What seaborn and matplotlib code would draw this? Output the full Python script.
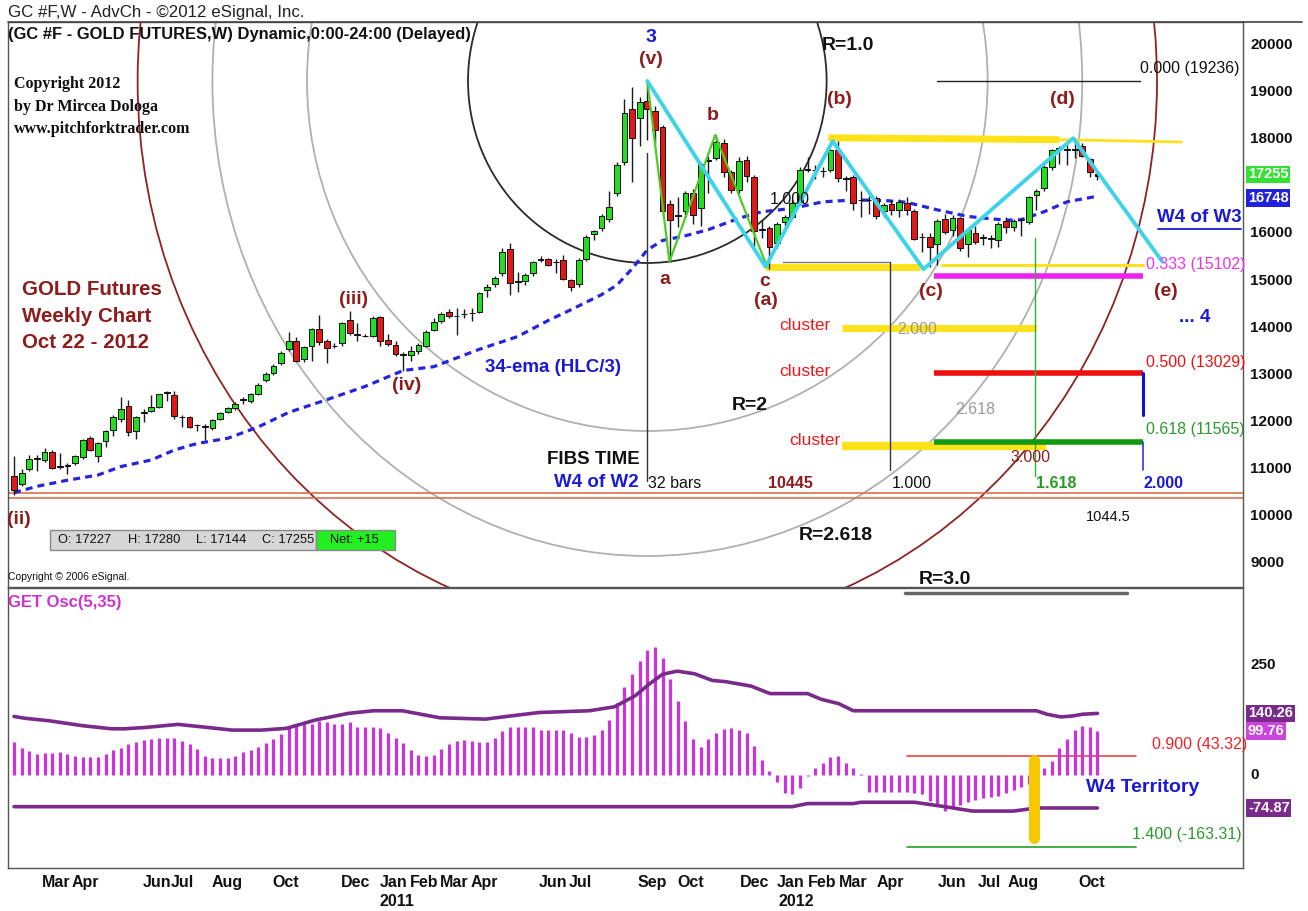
import numpy as np
import pandas as pd
import matplotlib
matplotlib.use("Agg")
import matplotlib.pyplot as plt
import seaborn as sns
from matplotlib.patches import Ellipse, Rectangle
from matplotlib.lines import Line2D

# ---------------- DATA ----------------
opens = [10840,10690,10990,11220,11190,11360,11050,11080,11120,11250,11660,11280,11590,11830,12070,12340,11800,12190,12235,12320,
         12610,12570,12110,12110,11930,11900,11860,12070,12210,12290,12470,12450,12600,12890,13040,13240,13550,13710,13330,13610,
         13980,13710,13620,13680,14170,13860,13820,13820,14230,13740,13630,13440,13420,13510,13610,13950,14130,14340,14250,14290,
         14300,14340,14800,14930,15150,15660,14970,14980,15150,15440,15450,15400,15440,15010,14920,15450,15990,16110,16300,16850,
         17520,18650,18460,18810,18600,18250,16620,16370,16480,16860,16530,17540,17610,17910,17310,16920,17560,17200,16080,16110,
         15790,16250,16350,16670,17360,17350,17330,17340,17780,17170,17190,16710,16710,16745,16480,16620,16500,16650,16480,15920,
         15930,15780,16300,16070,16320,15780,16010,15920,15900,15860,16270,16130,16280,16250,16810,16960,17420,17800,17790,17780,
         17850,17570,17227]
highs = [11270,11000,11300,11300,11440,11400,11330,11120,11300,11640,11700,11570,11830,12150,12530,12460,12130,12270,12560,12600,
         12660,12650,12140,12120,11960,11960,12050,12200,12320,12420,12520,12620,12820,13060,13220,13500,13910,13790,13610,14000,
         14270,13760,13680,14110,14350,14100,13860,14240,14250,13870,13720,13480,13600,13680,13940,14200,14340,14400,14410,14400,
         14420,14750,14920,15100,15690,15800,15190,15150,15420,15520,15480,15460,15550,15040,15470,15970,16080,16420,16890,17520,
         18850,19100,18900,19236,18700,18300,16700,16780,16900,16950,17520,17650,18080,18000,17350,17620,17650,17250,16290,16150,
         16250,16400,16700,17400,17630,17450,17420,17800,17970,17220,17250,16900,16800,16800,16650,16700,16720,16780,16520,16000,
         16000,16300,16420,16400,16350,16100,16150,15980,15960,16250,16350,16300,16330,16800,16950,17450,17800,17850,17880,18020,
         17920,17600,17280]
lows = [10445,10630,10950,10950,11150,11000,10990,10900,11080,11220,11380,11150,11460,11700,12000,11690,11630,12000,12200,12290,
        12440,12050,11890,11870,11800,11620,11820,12030,12180,12250,12380,12400,12560,12840,12990,13200,13500,13260,13270,13300,
        13640,13250,13560,13600,13850,13710,13800,13800,13600,13600,13400,13085,13300,13450,13580,13920,14100,14200,13840,14200,
        14150,14300,14650,14860,15100,14690,14760,14900,15100,15390,15300,15150,15010,14780,14860,15420,15870,16060,16250,16800,
        17450,17100,17850,17980,17900,16360,15400,16140,16350,16200,16150,16850,17550,17200,16850,16850,17100,15680,15900,15250,
        15700,16150,16300,16600,17300,17150,17200,17300,17100,16900,16500,16350,16420,16300,16350,16400,16350,16400,15850,15600,
        15294,15330,15980,15950,15620,15500,15780,15750,15700,15720,16000,16050,15950,16200,16500,16900,17350,17480,17450,17600,
        17620,17200,17144]
closes = [10560,10920,11220,11230,11360,11010,11060,11060,11270,11610,11400,11540,11810,12110,12270,11780,12110,12200,12305,12580,
          12630,12120,12100,11900,11940,11890,12040,12180,12290,12380,12480,12590,12780,13010,13180,13470,13710,13290,13590,13980,
          13690,13570,13600,14090,13890,13850,13830,14210,13720,13650,13440,13420,13510,13630,13910,14120,14280,14250,14240,14280,
          14310,14730,14870,15050,15600,14950,14980,15110,15400,15450,15330,15390,15030,14860,15430,15930,16060,16370,16550,17450,
          18550,18020,18780,18650,18200,16480,16290,16380,16850,16390,17480,17540,17940,17310,16920,17540,17220,16060,16090,15720,
          16200,16350,16650,17350,17350,17340,17320,17770,17170,17160,16640,16700,16700,16360,16600,16500,16670,16500,15880,15920,
          15720,16270,16040,16320,15680,16070,15820,15910,15890,16200,16130,16270,16290,16770,16910,17420,17770,17810,17780,17790,
          17640,17310,17255]

ema_idx = [0,3,7,11,14,18,21,24,28,32,36,41,46,51,55,61,66,70,73,77,79,81,83,85,88,91,95,98,102,106,110,114,117,121,125,130,132,135,138,142]
ema_val = [10495,10630,10760,10870,11050,11190,11400,11540,11650,11890,12200,12470,12750,13090,13170,13540,13810,14150,14380,14700,
           14900,15250,15650,15850,15950,16080,16320,16460,16530,16670,16710,16700,16660,16500,16360,16280,16290,16460,16670,16790]

osc = [76,62,55,48,49,49,53,47,44,42,42,42,47,57,62,70,76,80,82,83,83,85,77,70,59,44,38,38,38,44,
       53,57,64,72,82,93,106,112,115,117,123,120,117,117,120,110,110,110,106,95,85,72,57,45,44,45,59,70,77,80,
       77,76,76,85,99,108,110,108,108,102,102,102,102,95,86,86,91,102,125,163,199,229,259,284,290,266,218,168,123,81,
       64,81,96,104,106,102,96,66,33,9,-15,-40,-44,-29,-2,17,28,41,44,28,17,3,-38,-38,-38,-38,-38,-38,-40,-44,
       -58,-70,-82,-75,-68,-62,-56,-52,-50,-47,-40,-35,-28,-20,-5,17,32,62,81,102,111,110,100]

band_up_idx = [0,1.4,4.7,9,12.8,14.5,17.2,21.5,25.4,28.6,32.4,35.7,39.5,43.8,47.1,50.9,55.8,61.8,65,68.8,75.4,78.7,81.4,83.2,85,
               86.9,89.2,91.5,93.3,96.6,98.2,99.1,104,105.8,108.1,110,134,135.4,137.2,138.7,140,142]
band_up_val = [133,129,123,112,105,105,108,115,108,102,102,106,125,140,146,146,130,127,134,142,146,155,180,206,229,
               236,230,215,212,202,191,185,185,172,162,146,146,138,132,134,138,140]
band_lo_idx = [0,102,104,110,111,118,122,125.6,131,134,142]
band_lo_val = [-72,-72,-65,-65,-62,-62,-72,-82,-82,-75,-75]

price_ticks = [20000,19000,18000,16000,15000,14000,13000,12000,11000,10000,9000]
month_pos = [5.5,9.3,18.7,22.1,27.9,35.6,44.7,49.8,53.7,57.7,61.6,70.6,74.2,83.6,88.7,97,101.8,105.9,110,114.9,122.9,127.8,132.2,141.2]
month_lab = ["Mar","Apr","Jun","Jul","Aug","Oct","Dec","Jan","Feb","Mar","Apr","Jun","Jul","Sep","Oct","Dec","Jan","Feb","Mar","Apr","Jun","Jul","Aug","Oct"]
year_pos = [50.2, 102.5]
year_lab = ["2011", "2012"]

# wave structures (bar index, price)
cyan_idx = [83, 98.5, 107.3, 119.2, 138.8, 150.5]
cyan_px = [19236, 15290, 17960, 15240, 18020, 15400]
green_idx = [83, 85.9, 91.9, 98.7]
green_px = [19236, 15400, 18090, 15290]
arc_ratio = ["1.0", "2", "2.618", "3.0"]
arc_a_bars = [23.5, 44.6, 57.0, 66.8]
arc_b_price = [3864, 7431, 10085, 11677]
arc_colors = ["#2a2a2a", "#b0b0b0", "#b0b0b0", "#8e2323"]

fib_levels = [19236, 15102, 13029, 11565]
fib_names = ["0.000 (19236)", "0.333 (15102)", "0.500 (13029)", "0.618 (11565)"]
osc_fibs = [43.32, -163.31]
osc_fib_names = ["0.900 (43.32)", "1.400 (-163.31)"]

# ---------------- FIGURE ----------------
sns.set_theme(style="white")
NARROW = ["Liberation Sans Narrow", "Liberation Sans", "DejaVu Sans"]
plt.rcParams["font.family"] = NARROW

W, H = 1308, 911
fig = plt.figure(figsize=(W / 100, H / 100), dpi=100)
fig.patch.set_facecolor("white")

def fx(x):
    return x / W

def fy(y):
    return 1 - y / H

ax1 = fig.add_axes([fx(8), fy(587), (1243 - 8) / W, (587 - 22) / H])
ax2 = fig.add_axes([fx(8), fy(868), (1243 - 8) / W, (868 - 588) / H])
for ax in (ax1, ax2):
    ax.set_facecolor("white")
    for s in ax.spines.values():
        s.set_color("#555555")
        s.set_linewidth(1.0)
    ax.set_yticks([])
    ax.grid(False)

XL = (-0.79, 161.07)
ax1.set_xlim(*XL)
ax1.set_ylim(8493, 20488)
ax2.set_xlim(*XL)
ax2.set_ylim(-211.4, 425)
ax1.set_xticks([])

n = len(closes)
idx = np.arange(n)
df = pd.DataFrame({"i": idx, "o": opens, "h": highs, "l": lows, "c": closes})

# -------- arcs --------
for a, b, col in zip(arc_a_bars, arc_b_price, arc_colors):
    e = Ellipse((83, 19236), width=2 * a, height=2 * b, fill=False, edgecolor=col, lw=1.3, zorder=1)
    ax1.add_patch(e)

# orange double line at 1044.5
ax1.axhline(10490, color="#d9714f", lw=1.2, zorder=2)
ax1.axhline(10385, color="#d9714f", lw=1.2, zorder=2)

# -------- fib / cluster lines --------
ax1.plot([121, 147.6], [19236, 19236], color="#222222", lw=1.0, zorder=2)
ax1.plot([106.7, 137], [18030, 17990], color="#ffe21a", lw=5, zorder=2, solid_capstyle="butt")
ax1.plot([137, 153], [17990, 17940], color="#ffe21a", lw=2, zorder=2)
ax1.plot([98.4, 118.8], [15290, 15290], color="#ffe21a", lw=5, zorder=2, solid_capstyle="butt")
ax1.plot([100.8, 114.8], [15400, 15400], color="#777777", lw=1.0, zorder=2)
ax1.plot([121.6, 148], [15330, 15330], color="#ffe21a", lw=2.2, zorder=2)
ax1.plot([120.6, 148], [15102, 15102], color="#ee22ee", lw=4, zorder=2, solid_capstyle="butt")
ax1.plot([108.5, 134], [13990, 13990], color="#ffe21a", lw=5, zorder=2, solid_capstyle="butt")
ax1.plot([120.6, 148], [13029, 13029], color="#ee1111", lw=4, zorder=2, solid_capstyle="butt")
ax1.plot([108.5, 135.3], [11480, 11480], color="#ffe21a", lw=6, zorder=2, solid_capstyle="butt")
ax1.plot([120.6, 148], [11565, 11565], color="#119911", lw=4, zorder=3, solid_capstyle="butt")
ax1.plot([148, 148], [13029, 12150], color="#1111dd", lw=2.2, zorder=3)
ax1.plot([148, 148], [11565, 10980], color="#3333dd", lw=1.2, zorder=3)
ax1.plot([83, 83], [17700, 10750], color="#333333", lw=1.0, zorder=2)
ax1.plot([114.8, 114.8], [15400, 10980], color="#333333", lw=1.0, zorder=2)
ax1.plot([133.8, 133.8], [15900, 10850], color="#33aa33", lw=1.0, zorder=2)

# -------- EMA --------
sns.lineplot(x=ema_idx, y=ema_val, ax=ax1, color="#2525dd", lw=2.3,
             linestyle=(0, (2.2, 1.6)), zorder=3, sort=False, estimator=None)

# -------- candles --------
ax1.vlines(df["i"], df["l"], df["h"], color="#1a1a1a", lw=1.0, zorder=4)
body_bottom = np.minimum(df["o"], df["c"])
body_h = np.maximum(np.abs(df["c"] - df["o"]), 12)
cols = np.where(np.abs(df["c"] - df["o"]) < 40, "#111111",
                np.where(df["c"] > df["o"], "#22dd22", "#e01818"))
ax1.bar(df["i"], body_h, bottom=body_bottom, width=0.76, color=cols,
        edgecolor="#111111", linewidth=0.7, zorder=5)

# -------- wave zigzags --------
ax1.plot(green_idx, green_px, color="#4ccc22", lw=1.6, zorder=6)
ax1.plot(cyan_idx, cyan_px, color="#3fd3ea", lw=2.8, zorder=6, solid_capstyle="round")

# -------- right price labels --------
SANS = ["Liberation Sans", "DejaVu Sans"]
ty = ax1.get_yaxis_transform()
for p in price_ticks:
    ax1.text(1.006, p, f"{p}", transform=ty, ha="left", va="center", fontsize=11,
             fontweight="bold", color="#111111", family=SANS, clip_on=False)
ax1.text(1.004, 17255, "17255", transform=ty, ha="left", va="center", fontsize=10.5, fontweight="bold",
         color="white", family=SANS,
         bbox=dict(boxstyle="square,pad=0.12", fc="#33e033", ec="none"), clip_on=False)
ax1.text(1.004, 16748, "16748", transform=ty, ha="left", va="center", fontsize=10.5, fontweight="bold",
         color="white", family=SANS,
         bbox=dict(boxstyle="square,pad=0.12", fc="#2222dd", ec="none"), clip_on=False)

# -------- oscillator --------
ax2.vlines(idx, 0, osc, color="#cc33dd", lw=2.3, zorder=3)
sns.lineplot(x=band_up_idx, y=band_up_val, ax=ax2, color="#7a2a8a", lw=2.6, zorder=4, sort=False, estimator=None)
sns.lineplot(x=band_lo_idx, y=band_lo_val, ax=ax2, color="#7a2a8a", lw=2.6, zorder=4, sort=False, estimator=None)
ax2.plot([116.8, 145.9], [413, 413], color="#666666", lw=2.5, zorder=2)
ax2.plot([117, 147], [osc_fibs[0]] * 2, color="#ee3333", lw=1.1, zorder=2)
ax2.plot([117, 147], [osc_fibs[1]] * 2, color="#33aa33", lw=1.3, zorder=2)
ax2.plot([133.7, 133.7], [35, -143], color="#f5c800", lw=8, solid_capstyle="round", zorder=5)

ty2 = ax2.get_yaxis_transform()
for v in [250, 0]:
    ax2.text(1.006, v, f"{v}", transform=ty2, ha="left", va="center", fontsize=11, fontweight="bold",
             color="#111111", family=SANS, clip_on=False)
for v, s, c in [(140.26, "140.26", "#7a2a8a"), (99.76, "99.76", "#cc44dd"), (-74.87, "-74.87", "#7a2a8a")]:
    ax2.text(1.004, v, s, transform=ty2, ha="left", va="center", fontsize=10.5, fontweight="bold",
             color="white", family=SANS,
             bbox=dict(boxstyle="square,pad=0.12", fc=c, ec="none"), clip_on=False)

ax2.set_xticks(month_pos)
ax2.set_xticklabels(month_lab, fontsize=11.5, fontweight="bold", color="#111111")
ax2.tick_params(axis="x", length=0, pad=5)
tx2 = ax2.get_xaxis_transform()
for p, s in zip(year_pos, year_lab):
    ax2.text(p, -0.118, s, transform=tx2, ha="center", va="center", fontsize=11.5, fontweight="bold",
             color="#111111", clip_on=False)

# -------- texts --------
def T(x, y, s, size=12, color="#111111", weight="bold", ha="center", va="center", family=None, **kw):
    return fig.text(fx(x), fy(y), s, fontsize=size, color=color, fontweight=weight, ha=ha, va=va,
                    family=family if family is not None else NARROW, **kw)

fig.add_artist(Line2D([fx(8), fx(1302)], [fy(22), fy(22)], color="#444444", lw=1.2))
T(8, 12, "GC #F,W - AdvCh - \u00a92012 eSignal, Inc.", size=12.2, weight="normal", ha="left", color="#222222")
T(8, 35, "(GC #F - GOLD FUTURES,W) Dynamic,0:00-24:00 (Delayed)", size=11.9, ha="left")

SERIF = ["Liberation Serif", "DejaVu Serif"]
T(14, 84, "Copyright 2012", size=11.5, ha="left", family=SERIF)
T(14, 107, "by Dr Mircea Dologa", size=11.5, ha="left", family=SERIF)
T(14, 129, "www.pitchforktrader.com", size=11.5, ha="left", family=SERIF)

DR = "#8e1c1c"
T(22, 290, "GOLD Futures", size=14.8, ha="left", color=DR)
T(22, 317, "Weekly Chart", size=14.8, ha="left", color=DR)
T(22, 343, "Oct 22 - 2012", size=14.8, ha="left", color=DR)

BL = "#1a1ad6"
T(553, 367, "34-ema (HLC/3)", size=13.5, color=BL)

for (x, y, s) in [(651, 60, "(v)"), (713, 116, "b"), (665, 280, "a"), (765, 281, "c"), (766, 301, "(a)"),
                  (839, 100, "(b)"), (931, 291, "(c)"), (1062, 100, "(d)"), (1166, 291, "(e)"),
                  (354, 299, "(iii)"), (407, 386, "(iv)"), (19, 520, "(ii)")]:
    T(x, y, s, size=14, color=DR)
T(651, 37, "3", size=14, color=BL)

for (x, y, s) in [(848, 45, "R=1.0"), (750, 406, "R=2"), (836, 535, "R=2.618"), (945, 580, "R=3.0")]:
    T(x, y, s, size=14)

T(593, 460, "FIBS TIME", size=13.5)
T(596, 482, "W4 of W2", size=13.5, color=BL)
T(675, 483, "32 bars", size=11.5, weight="normal")
T(790, 483, "10445", size=11.5, color=DR)
T(912, 483, "1.000", size=11.5, weight="normal")
T(1056, 483, "1.618", size=11.5, color="#2a9a2a")
T(1163, 483, "2.000", size=11.5, color=BL)
T(1108, 517, "1044.5", size=10.5, weight="normal")

fib_cols = ["#111111", "#ee33ee", "#ee1111", "#2a9a2a"]
fib_y = [68, 265, 362, 430]
fib_x = [1140, 1146, 1146, 1146]
for xx, yy, s, c in zip(fib_x, fib_y, fib_names, fib_cols):
    T(xx, yy, s, size=11.5, color=c, weight="normal", ha="left")

T(1199, 218, "W4 of W3", size=13.5, color=BL)
fig.add_artist(Line2D([fx(1158), fx(1241)], [fy(229), fy(229)], color=BL, lw=1.3))
T(1195, 317, "... 4", size=13.5, color=BL)

for (x, y) in [(805, 325), (805, 371), (815, 441)]:
    T(x, y, "cluster", size=12.5, color="#ee1a1a", weight="normal")
T(790, 199, "1.000", size=11.5, weight="normal")
T(917, 330, "2.000", size=11.5, color="#999999", weight="normal")
T(975, 410, "2.618", size=11.5, color="#999999", weight="normal")
T(1030, 458, "3.000", size=11.5, color=DR, weight="normal")

# OHLC box
fig.add_artist(Rectangle((fx(50), fy(550)), 266 / W, 20 / H, transform=fig.transFigure,
                         fc="#d6d6d6", ec="#8a8a8a", lw=1.0))
fig.add_artist(Rectangle((fx(316), fy(550)), 79 / W, 20 / H, transform=fig.transFigure,
                         fc="#22ee22", ec="#8a8a8a", lw=1.0))
for (x, s) in [(58, "O: 17227"), (128, "H: 17280"), (196, "L: 17144"), (262, "C: 17255"), (330, "Net: +15")]:
    T(x, 540, s, size=9.3, weight="normal", ha="left", color="#111111")
T(8, 577, "Copyright \u00a9 2006 eSignal.", size=7.5, weight="normal", ha="left", family=SANS)

T(8, 602, "GET Osc(5,35)", size=12, color="#cc33cc", ha="left")
T(1152, 745, osc_fib_names[0], size=11.5, color="#ee2222", weight="normal", ha="left")
T(1132, 835, osc_fib_names[1], size=11.5, color="#2a9a2a", weight="normal", ha="left")
T(1143, 787, "W4 Territory", size=14, color=BL)

fig.savefig("out.png", dpi=100, facecolor="white")
